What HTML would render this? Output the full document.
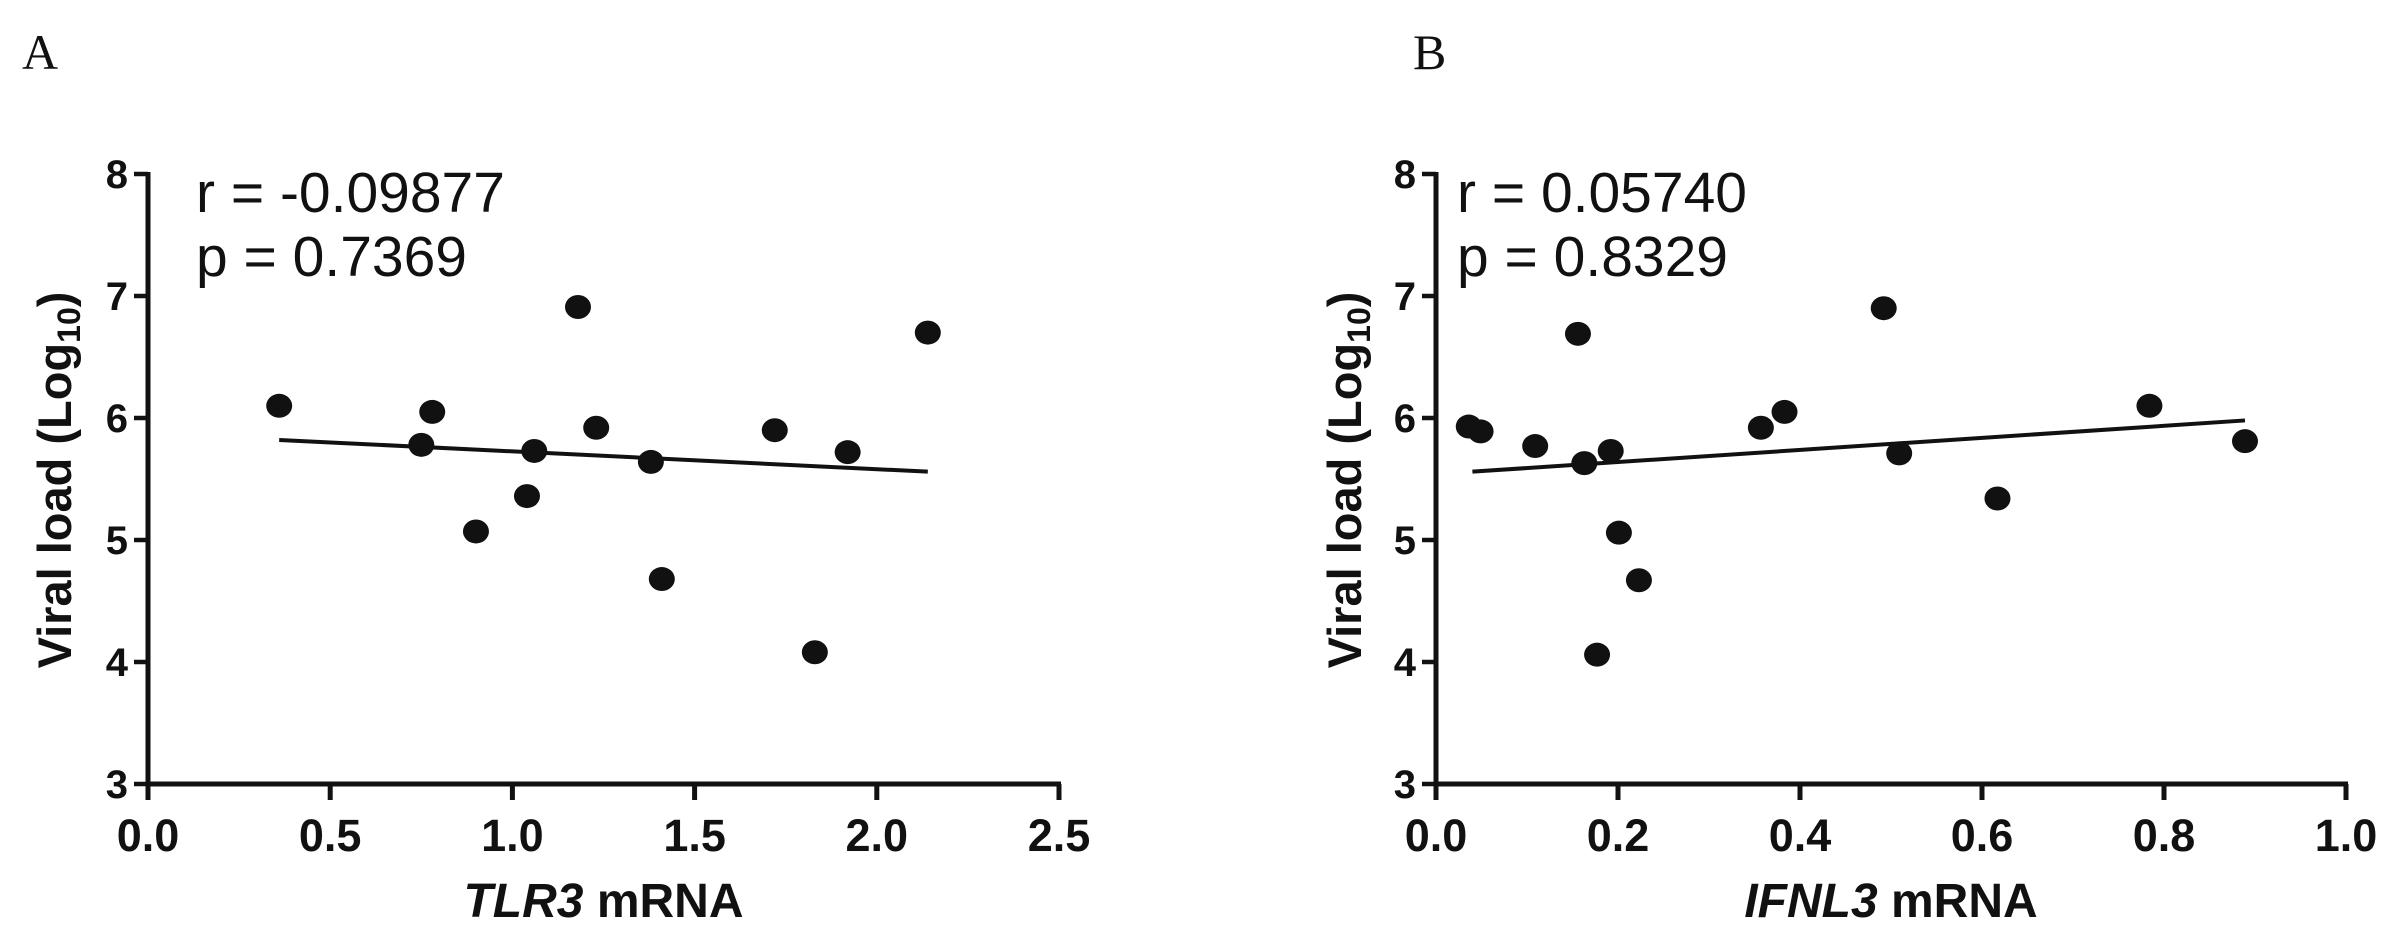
<!DOCTYPE html>
<html><head><meta charset="utf-8"><style>
html,body{margin:0;padding:0;background:#fff;}
svg{display:block;}
text{font-family:"Liberation Sans",Arial,sans-serif;fill:#111;}
</style></head><body>
<svg id="fig" width="2395" height="943" viewBox="0 0 2395 943" xmlns="http://www.w3.org/2000/svg">
<text x="22" y="69" style="font-family:'Liberation Serif',serif;font-size:50px;">A</text>
<text x="1413" y="69" style="font-family:'Liberation Serif',serif;font-size:50px;">B</text>
<g id="panelA"></g>
<g id="panelB"></g>
</svg>
<script>
// Panel A data
const aX = [0.36,0.75,0.78,0.90,1.04,1.06,1.18,1.23,1.38,1.41,1.72,1.83,1.92,2.14];
const aY = [6.10,5.78,6.05,5.07,5.36,5.73,6.91,5.92,5.64,4.68,5.90,4.08,5.72,6.70];
const aFitX = [0.36,2.14];
const aFitY = [5.82,5.56];
const aXTicks = [0.0,0.5,1.0,1.5,2.0,2.5];
const aXTickLabels = ["0.0","0.5","1.0","1.5","2.0","2.5"];
// Panel B data
const bX = [0.036,0.049,0.109,0.156,0.163,0.177,0.192,0.201,0.223,0.357,0.383,0.492,0.509,0.617,0.784,0.889];
const bY = [5.93,5.89,5.77,6.69,5.63,4.06,5.73,5.06,4.67,5.92,6.05,6.90,5.71,5.34,6.10,5.81];
const bFitX = [0.04,0.889];
const bFitY = [5.56,5.98];
const bXTicks = [0.0,0.2,0.4,0.6,0.8,1.0];
const bXTickLabels = ["0.0","0.2","0.4","0.6","0.8","1.0"];
const yTicks = [3,4,5,6,7,8];
const yTickLabels = ["3","4","5","6","7","8"];

const NS = "http://www.w3.org/2000/svg";
function mk(parent, tag, attrs, txt){
  const e = document.createElementNS(NS, tag);
  for (const k in attrs) e.setAttribute(k, attrs[k]);
  if (txt !== undefined) e.textContent = txt;
  parent.appendChild(e);
  return e;
}

function drawPanel(g, cfg){
  const x0 = cfg.left, x1 = cfg.right, yTop = 174, yBot = 784;
  const xs = v => x0 + (v - cfg.xmin) / (cfg.xmax - cfg.xmin) * (x1 - x0);
  const ys = v => yBot - (v - 3) / 5 * (yBot - yTop);
  const ya = mk(g, "line", {x1:x0, y1:yTop-2, x2:x0, y2:yBot+2, stroke:"#111", "stroke-width":5});
  
  
  const xa = mk(g, "line", {x1:x0-2, y1:yBot, x2:x1+2, y2:yBot, stroke:"#111", "stroke-width":5});
  
  
  yTicks.forEach((v,i)=>{
    const t = mk(g, "line", {x1:x0-14, y1:ys(v), x2:x0, y2:ys(v), stroke:"#111", "stroke-width":4.5});
    
    
    const l = mk(g, "text", {x:x0-20, y:ys(v)+14, "text-anchor":"end", "font-size":40, "font-weight":"bold"}, yTickLabels[i]);
    
    
  });
  cfg.ticks.forEach((v,i)=>{
    const t = mk(g, "line", {x1:xs(v), y1:yBot, x2:xs(v), y2:yBot+16, stroke:"#111", "stroke-width":5});
    
    
    const l = mk(g, "text", {x:xs(v), y:851, "text-anchor":"middle", "font-size":45, "font-weight":"bold"}, cfg.tickLabels[i]);
    
    
  });
  const yt = mk(g, "text", {x:0, y:0, transform:"translate("+cfg.yTitleX+",480) rotate(-90)", "text-anchor":"middle", "font-size":47, "font-weight":"bold"});
  
  
  mk(yt, "tspan", {}, "Viral load (Log");
  mk(yt, "tspan", {"font-size":32, dy:9}, "10");
  mk(yt, "tspan", {dy:-9}, ")");
  const xt = mk(g, "text", {x:(x0+x1)/2, y:917, "text-anchor":"middle", "font-size":48, "font-weight":"bold"});
  
  
  mk(xt, "tspan", {"font-style":"italic"}, cfg.gene);
  mk(xt, "tspan", {}, " mRNA");
  const r = mk(g, "text", {x:cfg.statX, y:212, "font-size":57}, cfg.rText);
  
  
  const p = mk(g, "text", {x:cfg.statX, y:276, "font-size":57}, cfg.pText);
  
  
  const fl = mk(g, "line", {x1:xs(cfg.fx[0]), y1:ys(cfg.fy[0]), x2:xs(cfg.fx[1]), y2:ys(cfg.fy[1]), stroke:"#111", "stroke-width":4});
  
  
  cfg.px.forEach((v,i)=>{
    const c = mk(g, "ellipse", {cx:xs(v), cy:ys(cfg.py[i]), rx:13, ry:12, fill:"#111"});
    
    
  });
}

drawPanel(document.getElementById("panelA"), {left:148, right:1059, xmin:0, xmax:2.5, ticks:aXTicks, tickLabels:aXTickLabels,
  gene:"TLR3", rText:"r = -0.09877", pText:"p = 0.7369", statX:196, fx:aFitX, fy:aFitY, px:aX, py:aY, yTitleX:71});
drawPanel(document.getElementById("panelB"), {left:1436, right:2346, xmin:0, xmax:1.0, ticks:bXTicks, tickLabels:bXTickLabels,
  gene:"IFNL3", rText:"r = 0.05740", pText:"p = 0.8329", statX:1457, fx:bFitX, fy:bFitY, px:bX, py:bY, yTitleX:1361});
</script>
</body></html>
